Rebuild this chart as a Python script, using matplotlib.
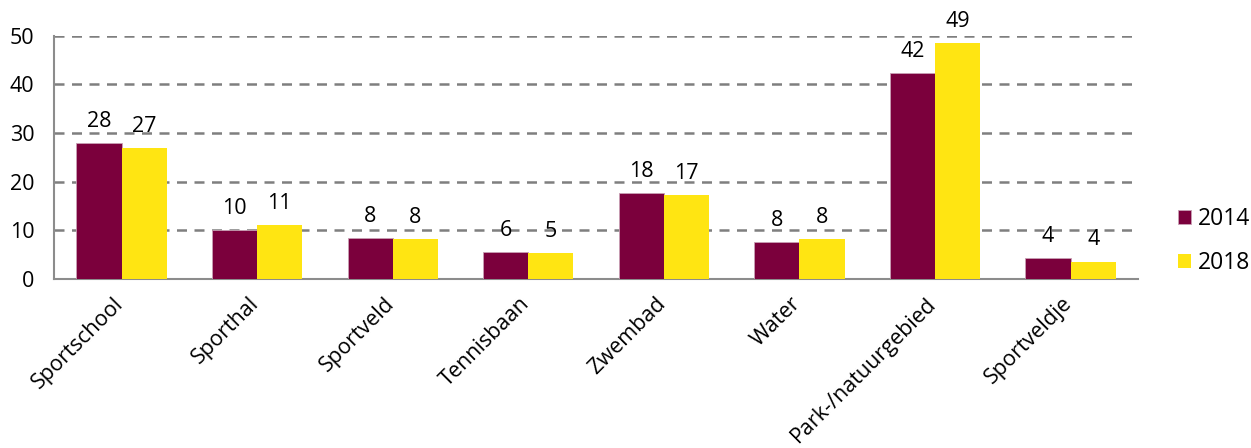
import numpy as np
import matplotlib.pyplot as plt
from matplotlib.transforms import ScaledTranslation

plt.rcParams['font.family'] = ['Open Sans', 'DejaVu Sans']

categories = ['Sportschool', 'Sporthal', 'Sportveld', 'Tennisbaan',
              'Zwembad', 'Water', 'Park-/natuurgebied', 'Sportveldje']
years = ['2014', '2018']
values_2014 = [28.0, 10.1, 8.4, 5.6, 17.7, 7.6, 42.4, 4.3]
values_2018 = [27.0, 11.1, 8.2, 5.3, 17.3, 8.2, 48.6, 3.6]

color_2014 = '#7B003C'
color_2018 = '#FFE512'

fig = plt.figure(figsize=(12.51, 4.48), dpi=100)
ax = fig.add_axes([0.043, 0.377, 0.867, 0.543])

x = np.arange(len(categories))
w = 0.333
b1 = ax.bar(x - w / 2, values_2014, w, color=color_2014, label=years[0],
            edgecolor='#C8A0B4', linewidth=0.6, zorder=3)
b2 = ax.bar(x + w / 2, values_2018, w, color=color_2018, label=years[1],
            zorder=3)

for bars in (b1, b2):
    ax.bar_label(bars, fmt='%.0f', padding=8, fontsize=15.5)

ax.set_xlim(-0.5, len(categories) - 0.5)
ax.set_ylim(0, 50)
ax.set_yticks(range(0, 51, 10))
ax.yaxis.grid(True, color='#7F7F7F', linestyle=(0, (4, 3)), linewidth=1.8)
ax.set_axisbelow(True)

ax.set_xticks(x)
ax.set_xticklabels(categories, rotation=45, ha='right', va='top',
                   rotation_mode='anchor', fontsize=15.5)
ax.tick_params(axis='both', length=0, labelsize=15.5)
ax.tick_params(axis='x', pad=10)
ax.tick_params(axis='y', pad=14)
shift = ScaledTranslation(-9 / 100, 0, fig.dpi_scale_trans)
for lab in ax.get_xticklabels():
    lab.set_transform(lab.get_transform() + shift)

for s in ['top', 'right']:
    ax.spines[s].set_visible(False)
for s in ['left', 'bottom']:
    ax.spines[s].set_color('#8C8C8C')
    ax.spines[s].set_linewidth(1.5)

fig.legend(loc='center left', bbox_to_anchor=(0.942, 0.462), frameon=False,
           fontsize=16.5, handlelength=0.55, handleheight=0.55,
           handletextpad=0.3, labelspacing=0.9, borderpad=0, borderaxespad=0)

fig.savefig('out.png', dpi=100)
